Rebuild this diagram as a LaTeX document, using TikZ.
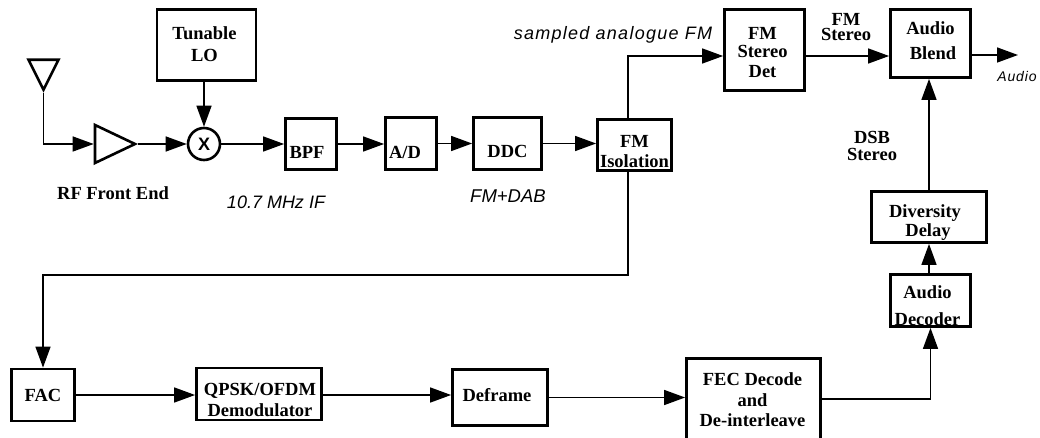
\documentclass[tikz,border=0pt]{standalone}
\usepackage{fontspec}
\setmainfont{Liberation Serif}
\newfontfamily\notefont{Liberation Sans}
\newfontfamily\widenotefont[LetterSpace=7]{Liberation Sans}
\newfontfamily\audiofont[LetterSpace=6]{Liberation Sans}
\usetikzlibrary{arrows.meta,shapes.geometric}
\newcommand{\blocktext}[3]{\raisebox{#2pt}[0pt][0pt]{\kern#1pt\begin{tabular}{@{}c@{}}#3\end{tabular}\kern-#1pt}}
\tikzset{
	blockbox/.style={draw, line width=2.8pt, inner sep=0pt, align=center, font=\fontsize{18.5}{18}\selectfont\bfseries},
	boldnote/.style={inner sep=0pt, align=center, font=\fontsize{18.5}{18}\selectfont\bfseries},
	slantnote/.style={inner sep=0pt, font=\fontsize{18}{18}\notefont\itshape},
	tribox/.style={draw, line width=2.6pt, isosceles triangle, isosceles triangle stretches, inner sep=0pt}
}
\begin{document}
\begin{tikzpicture}[x=1pt,y=-1pt,line width=1.5pt,>={Triangle[length=21pt,width=15pt]}]
		\useasboundingbox (0,0) rectangle (1040,438);
		\node (antenna) [tribox, shape border rotate=270, minimum width=30pt, minimum height=30pt] at (43.5,69) {};
		\node (amp) [tribox, minimum width=38pt, minimum height=40pt] at (107,144) {};
		\node (mixer) [draw, circle, line width=2.6pt, inner sep=0pt, minimum size=32pt, font=\fontsize{18}{18}\notefont\bfseries] at (204,144) {X};
		\node (lo) [blockbox, minimum width=99pt, minimum height=71pt] at (206.5,45) {\blocktext{-2}{-6}{Tunable\\[4pt]LO}};
		\node (bpf) [blockbox, minimum width=51pt, minimum height=51pt] at (311,144) {\blocktext{-4}{-15}{BPF}};
		\node (adc) [blockbox, minimum width=51pt, minimum height=52pt] at (411,143.5) {\blocktext{-6}{-15.5}{A/D}};
		\node (ddc) [blockbox, minimum width=68pt, minimum height=52pt] at (507.5,143.5) {\blocktext{0}{-14.5}{DDC}};
		\node (isolation) [blockbox, minimum width=74pt, minimum height=51pt] at (634.5,145) {\blocktext{0}{-13}{FM\\[2pt]Isolation}};
		\node (stereo) [blockbox, minimum width=80pt, minimum height=81pt] at (764.5,50) {\blocktext{-2}{-9}{FM\\Stereo\\[2pt]Det}};
		\node (blend) [blockbox, minimum width=80pt, minimum height=68pt] at (930.5,43.5) {\blocktext{0}{-4}{Audio\\[7pt]\hspace*{5pt}Blend}};
		\node (delay) [blockbox, minimum width=115pt, minimum height=51pt] at (929,217) {\blocktext{-4}{-10.5}{Diversity\\\hspace*{6pt}Delay}};
		\node (decoder) [blockbox, minimum width=80pt, minimum height=52pt] at (930.5,300.5) {\blocktext{-3}{-12}{Audio\\[9pt]Decoder}};
		\node (fac) [blockbox, minimum width=63pt, minimum height=52pt] at (43,395) {FAC};
		\node (qpsk) [blockbox, minimum width=125pt, minimum height=52pt] at (259,394) {\blocktext{1}{-12.5}{QPSK/OFDM\\[3pt]Demodulator}};
		\node (deframe) [blockbox, minimum width=95pt, minimum height=56pt] at (500,397.5) {\blocktext{-3}{-4.5}{Deframe}};
		\node (fec) [blockbox, minimum width=134pt, minimum height=80.5pt] at (753.5,398.75) {\blocktext{-1}{-8}{FEC Decode\\[3pt]and\\[2pt]De-interleave}};
		\node (rflabel) [boldnote] at (113,193) {RF Front End};
		\node (iflabel) [slantnote] at (276,202) {10.7 MHz IF};
		\node (dablabel) [slantnote, font=\fontsize{18.5}{18}\notefont\itshape] at (508,196) {FM+DAB};
		\node (fmlabel) [slantnote, font=\fontsize{18}{18}\widenotefont\itshape] at (613,35) {sampled analogue FM};
		\node (audiolabel) [inner sep=0pt, font=\fontsize{14}{14}\audiofont\itshape] at (1017,77) {Audio};
		\node (fmstereolabel) [boldnote] at (846,27) {FM\\[-3pt]Stereo};
		\node (dsblabel) [boldnote] at (872,146) {DSB\\[-1pt]Stereo};
		\coordinate (fmtap) at (628,56);
		\coordinate (fmdown) at (628,275);
		\coordinate (audioout) at (1018,55);
		\draw[->] (antenna.apex) |- (amp.west);
		\draw[->] (amp.apex) -- (mixer.west);
		\draw[->] (lo.south -| mixer) -- (mixer.north);
		\draw[->] (mixer.east) -- (bpf.west);
		\draw[->] (bpf.east) -- (bpf.east -| adc.west);
		\draw[->] (adc.east) -- (ddc.west);
		\draw[->] (ddc.east) -- (ddc.east -| isolation.west);
		\draw[->] (isolation.north -| fmtap) |- (stereo.west |- fmtap);
		\draw[->] (stereo.east |- fmtap) -- (blend.west |- fmtap);
		\draw[->] (blend.east |- audioout) -- (audioout);
		\draw[->] (isolation.south -| fmdown) -- (fmdown) -| (fac.north);
		\draw[->] (fac.east) -- (fac.east -| qpsk.west);
		\draw[->] (qpsk.east |- fac.east) -- (fac.east -| deframe.west);
		\draw[->] (deframe.east) -- (deframe.east -| fec.west);
		\draw[->] (fec.east) -| (decoder.south);
		\draw[->] (decoder.north -| delay) -- (delay.south);
		\draw[->] (delay.north) -- (blend.south -| delay);
		\end{tikzpicture}
\end{document}
